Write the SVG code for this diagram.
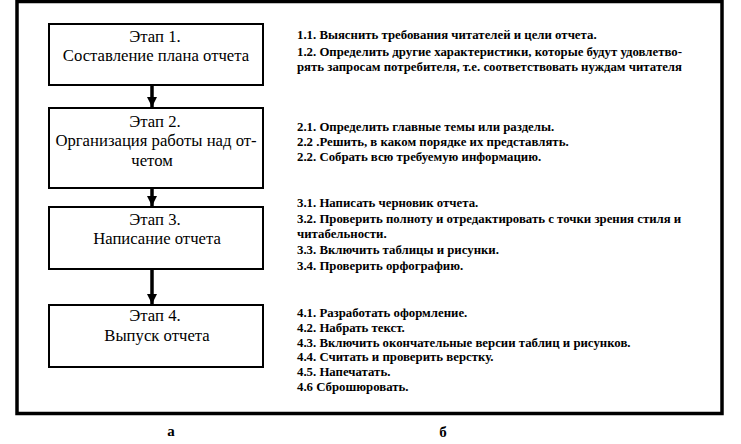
<svg xmlns="http://www.w3.org/2000/svg" width="741" height="444" viewBox="0 0 741 444">
<style>
.frame{fill:none;stroke:#000;stroke-width:3.5}
.box{fill:#fff;stroke:#000;stroke-width:2}
.bt{font-family:"Liberation Serif","DejaVu Serif",serif;font-size:16.7px;fill:#000;text-anchor:middle}
.rt{font-family:"Liberation Serif","DejaVu Serif",serif;font-size:12.8px;font-weight:bold;fill:#000}
.lab{font-family:"Liberation Serif","DejaVu Serif",serif;font-size:15px;font-weight:bold;fill:#000;text-anchor:middle}
.con{stroke:#000;stroke-width:3.5;fill:none}
</style>
<defs>
<marker id="ah" viewBox="0 0 10 10" refX="10" refY="5" markerWidth="3" markerHeight="3" markerUnits="strokeWidth" orient="auto">
<path d="M0,0 L10,5 L0,10 Z" fill="#000"/>
</marker>
</defs>
<rect width="741" height="444" fill="#fff"/>
<rect class="frame" x="17" y="1.5" width="705" height="412"/>
<g id="connectors">
<line class="con" x1="152" y1="85" x2="152" y2="107" marker-end="url(#ah)"/>
<line class="con" x1="152" y1="188" x2="152" y2="206" marker-end="url(#ah)"/>
<line class="con" x1="152" y1="269" x2="152" y2="304" marker-end="url(#ah)"/>
</g>
<g id="stage1">
<rect class="box" x="49" y="24" width="214" height="61"/>
<text class="bt" x="155" y="42">Этап 1.</text>
<text class="bt" x="156" y="61">Составление плана отчета</text>
</g>
<g id="stage2">
<rect class="box" x="49" y="108" width="214" height="80"/>
<text class="bt" x="155" y="127">Этап 2.</text>
<text class="bt" x="156" y="146">Организация работы над от-</text>
<text class="bt" x="152" y="166">четом</text>
</g>
<g id="stage3">
<rect class="box" x="49" y="207" width="214" height="62"/>
<text class="bt" x="155" y="225">Этап 3.</text>
<text class="bt" x="157" y="244">Написание отчета</text>
</g>
<g id="stage4">
<rect class="box" x="49" y="305" width="214" height="62"/>
<text class="bt" x="155" y="321">Этап 4.</text>
<text class="bt" x="157" y="341">Выпуск отчета</text>
</g>
<g id="tasks1">
<text class="rt" x="297" y="39">1.1. Выяснить требования читателей и цели отчета.</text>
<text class="rt" x="297" y="56">1.2. Определить другие характеристики, которые будут удовлетво-</text>
<text class="rt" x="297" y="71">рять запросам потребителя, т.е. соответствовать нуждам читателя</text>
</g>
<g id="tasks2">
<text class="rt" x="297" y="131">2.1. Определить главные темы или разделы.</text>
<text class="rt" x="297" y="146">2.2 .Решить, в каком порядке их представлять.</text>
<text class="rt" x="297" y="161">2.2. Собрать всю требуемую информацию.</text>
</g>
<g id="tasks3">
<text class="rt" x="297" y="207">3.1. Написать черновик отчета.</text>
<text class="rt" x="297" y="223">3.2. Проверить полноту и отредактировать с точки зрения стиля и</text>
<text class="rt" x="297" y="238">читабельности.</text>
<text class="rt" x="297" y="254">3.3. Включить таблицы и рисунки.</text>
<text class="rt" x="297" y="270">3.4. Проверить орфографию.</text>
</g>
<g id="tasks4">
<text class="rt" x="297" y="317">4.1. Разработать оформление.</text>
<text class="rt" x="297" y="332">4.2. Набрать текст.</text>
<text class="rt" x="297" y="347">4.3. Включить окончательные версии таблиц и рисунков.</text>
<text class="rt" x="297" y="361">4.4. Считать и проверить верстку.</text>
<text class="rt" x="297" y="376">4.5. Напечатать.</text>
<text class="rt" x="297" y="391">4.6 Сброшюровать.</text>
</g>
<text class="lab" x="171" y="436">а</text>
<text class="lab" x="443" y="437">б</text>
</svg>
